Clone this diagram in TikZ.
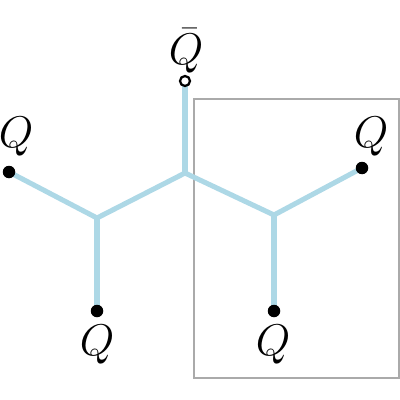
\documentclass[tikz,border=0pt]{standalone}
\usepackage{graphicx}
\usepackage{amsmath}
\newcommand{\bigQ}[1]{\scalebox{1.27}{\Huge$#1$}}
\begin{document}
\begin{tikzpicture}[x=0.025cm,y=-0.025cm,
  edge/.style={draw={rgb,255:red,173;green,216;blue,230},line width=3.6pt},
  qdot/.style={circle,fill=black,inner sep=0pt,minimum size=12.5*0.025cm},
  odot/.style={circle,draw=black,fill=white,line width=1.6pt,inner sep=0pt,minimum size=10*0.025cm},
  lab/.style={anchor=base,inner sep=0pt},
  box/.style={draw={rgb,255:red,170;green,170;blue,170},line width=1.4pt}]
\useasboundingbox (0,0) rectangle (400,400);
\node[box,minimum width=205*0.025cm,minimum height=279*0.025cm,inner sep=0pt,anchor=north west] (frame) at (193,98) {};
\coordinate (jl) at (97,218);
\coordinate (jc) at (185,173);
\coordinate (jr) at (274,215);
\coordinate (dl) at (9,172);
\coordinate (dbl) at (97,311);
\coordinate (dt) at (185,81);
\coordinate (dr) at (362,168);
\coordinate (dbr) at (274,311);
\draw[edge] (dl) -- (jl) -- (jc) -- (jr) -- (dr);
\draw[edge] (jl) -- (dbl);
\draw[edge] (jr) -- (dbr);
\draw[edge] (jc) -- (dt);
\node[qdot] (ndl) at (dl) {};
\node[qdot] (ndbl) at (dbl) {};
\node[qdot] (ndr) at (dr) {};
\node[qdot] (ndbr) at (dbr) {};
\node[odot] (ndt) at (dt) {};
\node[lab] (ql) at (16,148) {\bigQ{Q}};
\node[lab] (qt) at (186,65) {\bigQ{\bar{Q}}};
\node[lab] (qr) at (371,148) {\bigQ{Q}};
\node[lab] (qbl) at (97,355) {\bigQ{Q}};
\node[lab] (qbr) at (273,355) {\bigQ{Q}};
\end{tikzpicture}
\end{document}
